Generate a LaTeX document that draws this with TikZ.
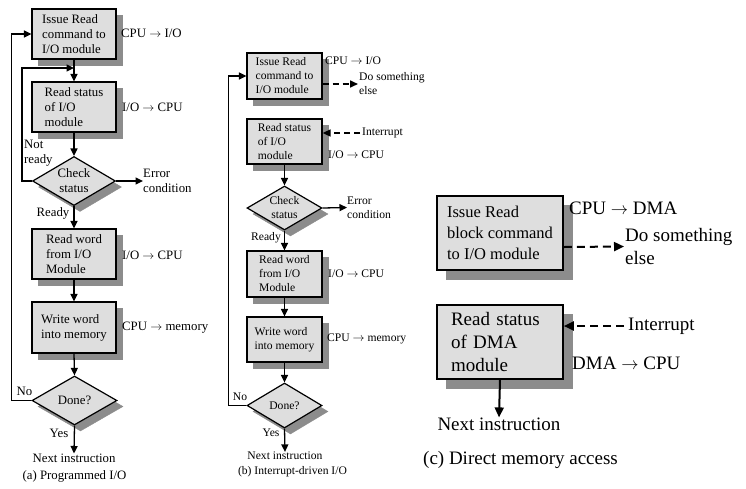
\documentclass[tikz,border=0pt]{standalone}
\usepackage{fontspec}
\setmainfont{Liberation Serif}
\usetikzlibrary{shapes.geometric,arrows.meta}
\colorlet{boxfill}{black!13}
\colorlet{shdcolor}{black!45}
\newcommand\fa{\fontsize{12.8}{15}\selectfont}
\newcommand\fb{\fontsize{11.6}{14}\selectfont}
\newcommand\fcs{\fontsize{16.5}{21}\selectfont}
\newcommand\fc{\fontsize{19}{23}\selectfont}
\tikzset{
  shdbox/.style={draw=shdcolor,fill=shdcolor,line width=0.4pt,inner sep=0pt},
  shddia/.style={diamond,draw=shdcolor,fill=shdcolor,line width=0.4pt,inner sep=0pt},
  abox/.style={draw,line width=1.2pt,fill=boxfill,minimum width=84pt,minimum height=50pt,inner sep=0pt,align=left,font=\fa},
  bbox/.style={draw,line width=1.2pt,fill=boxfill,minimum width=75pt,minimum height=46pt,inner sep=0pt,align=left,font=\fb},
  cbox/.style={draw,line width=1.6pt,fill=boxfill,minimum width=126pt,minimum height=74pt,inner sep=0pt,align=left},
  dia/.style={diamond,draw,line width=1.2pt,fill=boxfill,inner sep=0pt},
  lbl/.style={inner sep=0pt,align=left},
  arr/.style={line width=1.3pt,-{Triangle[length=7.5pt,width=7pt]}},
  darr/.style={line width=1.6pt,dash pattern=on 6pt off 4pt,-{Triangle[length=8pt,width=7pt]}},
  carr/.style={line width=2pt,-{Triangle[length=10pt,width=9pt]}},
  cdarr/.style={line width=2pt,dash pattern=on 8pt off 5pt,-{Triangle[length=10pt,width=9pt]}},
}
\begin{document}
\begin{tikzpicture}[x=1pt,y=-1pt]
\useasboundingbox (0,0) rectangle (746,488);
% ---------------- shadows ----------------
\node[shdbox,minimum width=84pt,minimum height=50pt] (a1s) at (80,40) {};
\node[shdbox,minimum width=84pt,minimum height=50pt] (a2s) at (80,113) {};
\node[shddia,minimum width=83pt,minimum height=49pt] (ad1s) at (80,187) {};
\node[shdbox,minimum width=84pt,minimum height=50pt] (a3s) at (80,260) {};
\node[shdbox,minimum width=84pt,minimum height=51pt] (a4s) at (80,333.5) {};
\node[shddia,minimum width=85pt,minimum height=49pt] (ad2s) at (80.5,406.5) {};
\node[shdbox,minimum width=75pt,minimum height=46pt] (b1s) at (290.5,82) {};
\node[shdbox,minimum width=75pt,minimum height=45pt] (b2s) at (290.5,147.5) {};
\node[shddia,minimum width=75pt,minimum height=44pt] (bd1s) at (290.5,214) {};
\node[shdbox,minimum width=75pt,minimum height=46pt] (b3s) at (290.5,280) {};
\node[shdbox,minimum width=75pt,minimum height=45pt] (b4s) at (290.5,345.5) {};
\node[shddia,minimum width=75pt,minimum height=45pt] (bd2s) at (290.5,411.5) {};
\node[shdbox,minimum width=126pt,minimum height=74pt] (c1s) at (509,242) {};
\node[shdbox,minimum width=126pt,minimum height=74pt] (c2s) at (509,351) {};
% ---------------- (a) ----------------
\node[abox] (a1) at (74,34) {Issue Read\\command to\\I/O module};
\node[abox] (a2) at (74,107) {Read status\\of I/O\\module};
\node[dia,minimum width=83pt,minimum height=49pt,label={[font=\fa,align=center]center:Check\\status}] (ad1) at (74,181) {};
\node[abox] (a3) at (74,254) {Read word\\from I/O\\Module};
\node[abox,minimum height=51pt] (a4) at (74,327.5) {Write word\\into memory};
\node[dia,minimum width=85pt,minimum height=49pt,label={[font=\fa]center:Done?}] (ad2) at (74.5,400.5) {};
\node[lbl,font=\fa] (anext) at (74,458) {Next instruction};
\node[lbl,font=\fa] (acap) at (74.5,476) {(a) Programmed I/O};
\node[lbl,font=\fa,anchor=west] (al1) at (121,33) {CPU $\rightarrow$ I/O};
\node[lbl,font=\fa,anchor=west] (al2) at (122,107) {I/O $\rightarrow$ CPU};
\node[lbl,font=\fa,anchor=west] (aerr) at (143,181) {Error\\condition};
\node[lbl,font=\fa,anchor=west] (al3) at (122,255) {I/O $\rightarrow$ CPU};
\node[lbl,font=\fa,anchor=west] (al4) at (122,328) {CPU $\rightarrow$ memory};
\node[lbl,font=\fa,anchor=west] (anr) at (24,153) {Not\\ready};
\node[lbl,font=\fa] (aready) at (53,213) {Ready};
\node[lbl,font=\fa] (ano) at (24.5,391) {No};
\node[lbl,font=\fa] (ayes) at (59,433) {Yes};
\coordinate (aj) at (74,68);
\draw[arr] (a1.south) -- (a2.north);
\draw[arr] (a2.south) -- (ad1.north);
\draw[arr] (ad1.east) -- (aerr.west);
\draw[arr] (ad1.south) -- (a3.north);
\draw[arr] (a3.south) -- (a4.north);
\draw[arr] (a4.south) -- (ad2.north);
\draw[arr] (ad2.south) -- (anext.north);
\draw[arr] (ad1.west) -- ++(-10,0) |- (aj);
\draw[arr] (ad2.west) -- ++(-20,0) |- (a1.west);
% ---------------- (b) ----------------
\node[bbox] (b1) at (284.5,76) {Issue Read\\command to\\I/O module};
\node[bbox,minimum height=45pt] (b2) at (284.5,141.5) {Read status\\of I/O\\module};
\node[dia,minimum width=75pt,minimum height=44pt,label={[font=\fb,align=center]center:Check\\status}] (bd1) at (284.5,208) {};
\node[bbox] (b3) at (284.5,274) {Read word\\from I/O\\Module};
\node[bbox,minimum height=45pt] (b4) at (284.5,339.5) {Write word\\into memory};
\node[dia,minimum width=75pt,minimum height=45pt,label={[font=\fb]center:Done?}] (bd2) at (284.5,405.5) {};
\node[lbl,font=\fb] (bnext) at (285,456) {Next instruction};
\node[lbl,font=\fb] (bcap) at (292.5,472) {(b) Interrupt-driven I/O};
\node[lbl,font=\fb,anchor=west] (bl1) at (325,61) {CPU $\rightarrow$ I/O};
\node[lbl,font=\fb,anchor=west] (bdse) at (359,84) {Do something\\else};
\node[lbl,font=\fb,anchor=west] (bint) at (362,133) {Interrupt};
\node[lbl,font=\fb,anchor=west] (bl2) at (328,155) {I/O $\rightarrow$ CPU};
\node[lbl,font=\fb,anchor=west] (berr) at (347,207.5) {Error\\condition};
\node[lbl,font=\fb,anchor=west] (bl3) at (328,274) {I/O $\rightarrow$ CPU};
\node[lbl,font=\fb,anchor=west] (bl4) at (327,339) {CPU $\rightarrow$ memory};
\node[lbl,font=\fb] (bready) at (266,238) {Ready};
\node[lbl,font=\fb] (bno) at (240,397) {No};
\node[lbl,font=\fb] (byes) at (271,433) {Yes};
\draw[darr] ([yshift=-8pt]b1.east) -- ([xshift=-1pt]bdse.west);
\draw[darr] ([xshift=-2pt]bint.west) -- (b2.east |- bint.west);
\draw[arr] (b2.south) -- (bd1.north);
\draw[arr] (bd1.east) -- (berr.west);
\draw[arr] (bd1.south) -- (b3.north);
\draw[arr] (b3.south) -- (b4.north);
\draw[arr] (b4.south) -- (bd2.north);
\draw[arr] (bd2.south) -- (bnext.north);
\draw[arr] (bd2.west) -- ++(-18,0) |- (b1.west);
% ---------------- (c) ----------------
\node[cbox,font=\fcs] (c1) at (500,233) {Issue Read\\block command\\to I/O module};
\node[cbox,font=\fc,text width=98pt,inner xsep=14pt] (c2) at (500,342) {Read status\\of DMA\\module};
\node[lbl,font=\fc,anchor=west] (cl1) at (569,208) {CPU $\rightarrow$ DMA};
\node[lbl,font=\fc,anchor=west] (cdse) at (625,246.5) {Do something\\else};
\node[lbl,font=\fc,anchor=west] (cint) at (628,326) {Interrupt};
\node[lbl,font=\fc,anchor=west] (cl2) at (572,363) {DMA $\rightarrow$ CPU};
\node[lbl,font=\fc] (cnext) at (499,424) {Next instruction};
\node[lbl,font=\fc] (ccap) at (520.5,460) {(c) Direct memory access};
\draw[cdarr] ([yshift=-14pt]c1.east) -- ([xshift=-1pt]cdse.west);
\draw[cdarr] ([xshift=-4pt]cint.west) -- (c2.east |- cint.west);
\draw[carr] (c2.south) -- (cnext.north);
\end{tikzpicture}
\end{document}
